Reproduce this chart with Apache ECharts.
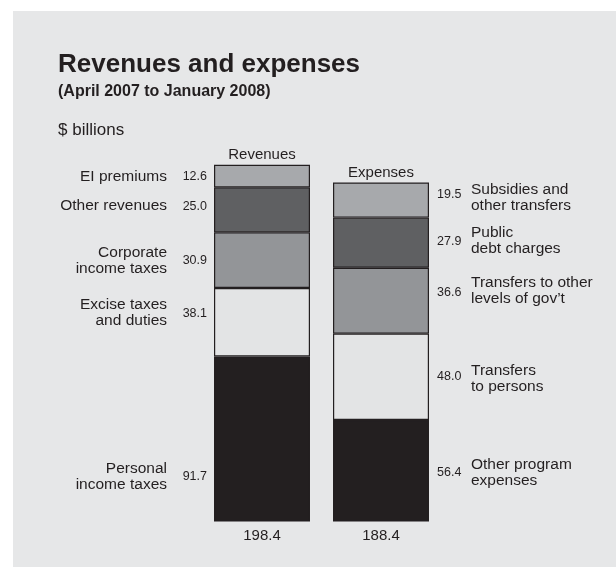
<!DOCTYPE html>
<html>
<head>
<meta charset="utf-8">
<script src="https://cdn.jsdelivr.net/npm/echarts@6/dist/echarts.min.js"></script>
<style>
html,body{margin:0;padding:0;background:#ffffff;}
#chart{width:616px;height:567px;}
</style>
</head>
<body>
<div id="chart"></div>
<script>
// ---- data ----
const categories = ['Revenues', 'Expenses'];
const totalLabels = ['198.4', '188.4'];
// stacked from bottom to top
const revenueNames = ['Personal\nincome taxes', 'Excise taxes\nand duties', 'Corporate\nincome taxes', 'Other revenues', 'EI premiums'];
const revenueValues = [91.7, 38.1, 30.9, 25.0, 12.6];
const expenseNames = ['Other program\nexpenses', 'Transfers\nto persons', 'Transfers to other\nlevels of gov\u2019t', 'Public\ndebt charges', 'Subsidies and\nother transfers'];
const expenseValues = [56.4, 48.0, 36.6, 27.9, 19.5];
const totals = [198.4, 188.4];

// ---- styles ----
const FONT = '"Liberation Sans", Arial, Helvetica, sans-serif';
const INK = '#231f20';
const BG = '#e6e7e8';
const layerColors = ['#231f20', '#e3e4e5', '#939598', '#5f6062', '#a7a9ac'];
const revValDy = [38, -9, 0, -3.5, 1];
const revNameDy = [38, -9, 1, -4.5, 1];
const expValDy = [2, 0, -8.5, -1, -5];
const expNameDy = [1.5, 2, -10, -1.5, -2.5];

const series = [];
for (let i = 0; i < revenueValues.length; i++) {
  series.push({
    type: 'bar', stack: 'seg', barWidth: 96, barGap: '-100%', silent: true,
    itemStyle: { color: layerColors[i], borderColor: INK, borderWidth: 1.2 },
    label: { show: true, fontFamily: FONT, fontSize: 12.5, color: INK,
      formatter: p => Number(p.value).toFixed(1) },
    data: [
      { value: revenueValues[i], label: { position: 'left', distance: 7, offset: [0, revValDy[i]] } },
      { value: expenseValues[i], label: { position: 'right', distance: 8, offset: [0, expValDy[i]] } }
    ]
  });
}
for (let i = 0; i < revenueValues.length; i++) {
  series.push({
    type: 'bar', stack: 'names', barWidth: 96, barGap: '-100%', silent: true, z: 3,
    itemStyle: { color: 'rgba(0,0,0,0)', borderWidth: 0 },
    label: { show: true, fontFamily: FONT, fontSize: 15.5, lineHeight: 16, color: INK },
    data: [
      { value: revenueValues[i], label: { position: 'left', distance: 47, offset: [0, revNameDy[i]], formatter: revenueNames[i] } },
      { value: expenseValues[i], label: { position: 'right', distance: 42, offset: [0, expNameDy[i]], formatter: expenseNames[i] } }
    ]
  });
}
series.push({
  type: 'bar', stack: 'tot', barWidth: 96, barGap: '-100%', silent: true, z: 3,
  itemStyle: { color: 'rgba(0,0,0,0)', borderWidth: 0 },
  label: { show: true, position: 'top', distance: 2, fontFamily: FONT, fontSize: 15, color: INK,
    formatter: p => categories[p.dataIndex] },
  data: totals
});

const chart = echarts.init(document.getElementById('chart'), null, { renderer: 'canvas' });
chart.setOption({
  animation: false,
  backgroundColor: '#ffffff',
  graphic: [
    { type: 'rect', z: -10, shape: { x: 13, y: 11, width: 603, height: 556 }, style: { fill: BG } },
    { type: 'text', x: 58, y: 65, style: { text: 'Revenues and expenses', fontFamily: FONT, fontWeight: 'bold', fontSize: 26, fill: INK, verticalAlign: 'middle' } },
    { type: 'text', x: 58, y: 92, style: { text: '(April 2007 to January 2008)', fontFamily: FONT, fontWeight: 'bold', fontSize: 16, fill: INK, verticalAlign: 'middle' } },
    { type: 'text', x: 58, y: 130.5, style: { text: '$ billions', fontFamily: FONT, fontSize: 17, fill: INK, verticalAlign: 'middle' } }
  ],
  grid: { left: 202.5, right: 175.5, top: 164.5, bottom: 45.5 },
  xAxis: {
    type: 'category', data: categories,
    axisLine: { show: false }, axisTick: { show: false },
    axisLabel: { margin: 7, fontFamily: FONT, fontSize: 15, color: INK,
      formatter: (v, idx) => totalLabels[idx] }
  },
  yAxis: { type: 'value', min: 0, max: 198.4, show: false, splitLine: { show: false } },
  series: series
});
</script>
</body>
</html>
